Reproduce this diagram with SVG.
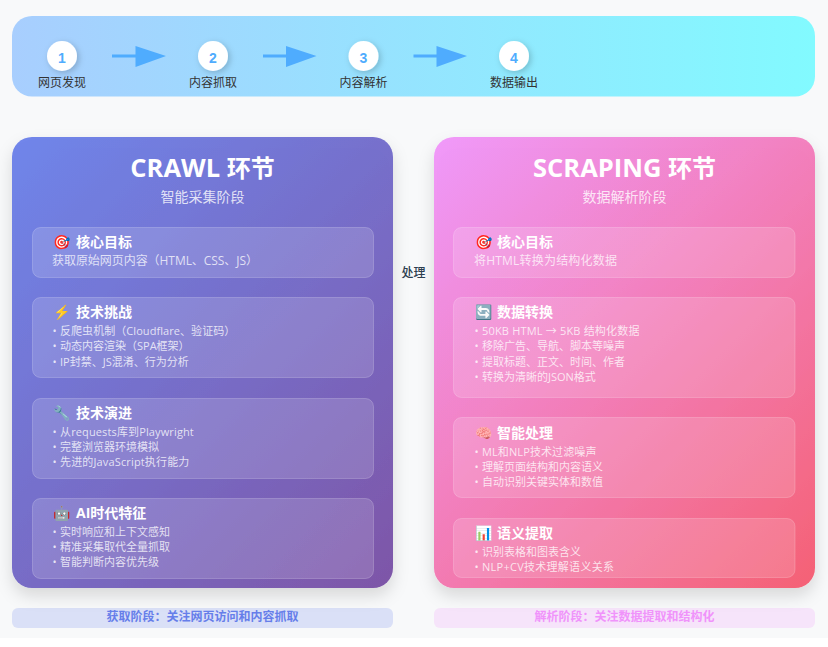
<svg xmlns="http://www.w3.org/2000/svg" width="828" height="647" viewBox="0 0 828 647">
<style>
text{font-family:"Open Sans","Noto Sans CJK SC",sans-serif}
.sl{font-size:12px;fill:#333;text-anchor:middle}
.n{font-size:14px;font-weight:700;fill:#4facfe;text-anchor:middle;font-family:"Liberation Sans","Noto Sans CJK SC",sans-serif}
.h{font-size:24px;font-weight:700;fill:#fff;text-anchor:middle}
.la{font-size:25.500px}
.sub{font-size:14px;fill:#fff;fill-opacity:.8;text-anchor:middle}
.st{font-size:14px;font-weight:700;fill:#fff}
.lead{font-size:12px;fill:#fff;fill-opacity:.75}
.it{font-size:11px;fill:#fff;fill-opacity:.78}
.em{font-size:14px;font-family:"Noto Color Emoji","Noto Sans CJK SC",sans-serif}
.sec{fill:#fff;fill-opacity:.15;stroke:#fff;stroke-opacity:.2}
.ft{font-size:12px;font-weight:700;text-anchor:middle}
.ar{fill:#4facfe}
</style>
<defs>
<linearGradient id="gt" gradientUnits="userSpaceOnUse" x1="12" y1="56" x2="815" y2="56"><stop offset="0" stop-color="#a8cefe"/><stop offset="1" stop-color="#82faff"/></linearGradient>
<linearGradient id="gl" gradientUnits="userSpaceOnUse" x1="-5.5" y1="154.5" x2="410.5" y2="570.5"><stop offset="0" stop-color="#667eea"/><stop offset="1" stop-color="#764ba2"/></linearGradient>
<linearGradient id="gr" gradientUnits="userSpaceOnUse" x1="416.5" y1="154.5" x2="832.5" y2="570.5"><stop offset="0" stop-color="#f093fb"/><stop offset="1" stop-color="#f5576c"/></linearGradient>
<filter id="sp" x="-10%" y="-10%" width="120%" height="120%"><feDropShadow dx="0" dy="8" stdDeviation="8" flood-color="#000" flood-opacity=".14"/></filter>
<filter id="sc" x="-50%" y="-50%" width="200%" height="200%"><feDropShadow dx="2" dy="2" stdDeviation="3" flood-color="#000" flood-opacity=".2"/></filter>
</defs>
<rect width="828" height="638" fill="#f8f9fa"/>
<g id="banner">
<rect x="12" y="16" width="803" height="80.500" rx="20" fill="url(#gt)"/>
</g>
<g id="connectors">
<path class="ar" d="M112 54.500H135.500V46L166 56 135.500 67V57.500H112Z"/>
<path class="ar" d="M263 54.500H286V46L316.500 56 286 67V57.500H263Z"/>
<path class="ar" d="M413.500 54.500H436.500V46L467 56 436.500 67V57.500H413.500Z"/>
</g>
<g id="step1"><circle cx="62" cy="56" r="15" fill="#fff" filter="url(#sc)"/><text class="n" x="62" y="63">1</text><text class="sl" x="62" y="87">网页发现</text></g>
<g id="step2"><circle cx="213" cy="56" r="15" fill="#fff" filter="url(#sc)"/><text class="n" x="213" y="63">2</text><text class="sl" x="213" y="87">内容抓取</text></g>
<g id="step3"><circle cx="363.500" cy="56" r="15" fill="#fff" filter="url(#sc)"/><text class="n" x="363.500" y="63">3</text><text class="sl" x="363.500" y="87">内容解析</text></g>
<g id="step4"><circle cx="514" cy="56" r="15" fill="#fff" filter="url(#sc)"/><text class="n" x="514" y="63">4</text><text class="sl" x="514" y="87">数据输出</text></g>

<g id="crawl">
<rect x="12" y="137" width="381" height="451" rx="20" fill="url(#gl)" fill-opacity=".93" filter="url(#sp)"/>
<text class="h" x="202.500" y="177"><tspan class="la">CRAWL </tspan>环节</text>
<text class="sub" x="202.500" y="202">智能采集阶段</text>
<rect class="sec" x="32.500" y="227.500" width="341" height="50" rx="8"/>
<text class="em" x="53" y="247">🎯</text><text class="st" x="76" y="247">核心目标</text>
<text class="lead" x="52" y="265" textLength="206" lengthAdjust="spacing">获取原始网页内容（HTML、CSS、JS）</text>
<rect class="sec" x="32.500" y="297.500" width="341" height="80" rx="8"/>
<text class="em" x="53" y="317">⚡</text><text class="st" x="76" y="317">技术挑战</text>
<text class="it" x="52.500" y="335">•<tspan x="60" letter-spacing=".06">反爬虫机制（Cloudflare、验证码）</tspan></text>
<text class="it" x="52.500" y="350">•<tspan x="60">动态内容渲染（SPA框架）</tspan></text>
<text class="it" x="52.500" y="366">•<tspan x="60">IP封禁、JS混淆、行为分析</tspan></text>
<rect class="sec" x="32.500" y="398.500" width="341" height="80" rx="8"/>
<text class="em" x="53" y="418">🔧</text><text class="st" x="76" y="418">技术演进</text>
<text class="it" x="52.500" y="436">•<tspan x="60" letter-spacing=".13">从requests库到Playwright</tspan></text>
<text class="it" x="52.500" y="451">•<tspan x="60">完整浏览器环境模拟</tspan></text>
<text class="it" x="52.500" y="466">•<tspan x="60" letter-spacing=".15">先进的JavaScript执行能力</tspan></text>
<rect class="sec" x="32.500" y="498.500" width="341" height="80" rx="8"/>
<text class="em" x="53" y="518">🤖</text><text class="st" x="76" y="518">AI时代特征</text>
<text class="it" x="52.500" y="536">•<tspan x="60">实时响应和上下文感知</tspan></text>
<text class="it" x="52.500" y="551">•<tspan x="60">精准采集取代全量抓取</tspan></text>
<text class="it" x="52.500" y="566">•<tspan x="60">智能判断内容优先级</tspan></text>
</g>

<g id="process"><text x="413.500" y="277" font-size="12" font-weight="500" fill="#2c3e50" text-anchor="middle">处理</text></g>

<g id="scraping">
<rect x="434" y="137" width="381" height="451" rx="20" fill="url(#gr)" fill-opacity=".93" filter="url(#sp)"/>
<text class="h" x="624.500" y="177"><tspan class="la">SCRAPING </tspan>环节</text>
<text class="sub" x="624.500" y="202">数据解析阶段</text>
<rect class="sec" x="453.500" y="227.500" width="341.500" height="50" rx="8"/>
<text class="em" x="475" y="247">🎯</text><text class="st" x="497" y="247">核心目标</text>
<text class="lead" x="474" y="265" textLength="143" lengthAdjust="spacing">将HTML转换为结构化数据</text>
<rect class="sec" x="453.500" y="297.500" width="341.500" height="100" rx="8"/>
<text class="em" x="475" y="317">🔄</text><text class="st" x="497" y="317">数据转换</text>
<text class="it" x="474.500" y="335">•<tspan x="482" letter-spacing=".18">50KB HTML → 5KB 结构化数据</tspan></text>
<text class="it" x="474.500" y="350">•<tspan x="482">移除广告、导航、脚本等噪声</tspan></text>
<text class="it" x="474.500" y="366">•<tspan x="482">提取标题、正文、时间、作者</tspan></text>
<text class="it" x="474.500" y="381">•<tspan x="482">转换为清晰的JSON格式</tspan></text>
<rect class="sec" x="453.500" y="417.500" width="341.500" height="80" rx="8"/>
<text class="em" x="475" y="438">🧠</text><text class="st" x="497" y="438">智能处理</text>
<text class="it" x="474.500" y="456">•<tspan x="482" letter-spacing=".1">ML和NLP技术过滤噪声</tspan></text>
<text class="it" x="474.500" y="471">•<tspan x="482">理解页面结构和内容语义</tspan></text>
<text class="it" x="474.500" y="486">•<tspan x="482">自动识别关键实体和数值</tspan></text>
<rect class="sec" x="453.500" y="518.500" width="341.500" height="59" rx="8"/>
<text class="em" x="475" y="538">📊</text><text class="st" x="497" y="538">语义提取</text>
<text class="it" x="474.500" y="556">•<tspan x="482">识别表格和图表含义</tspan></text>
<text class="it" x="474.500" y="571">•<tspan x="482" letter-spacing=".27">NLP+CV技术理解语义关系</tspan></text>
</g>

<g id="note-crawl"><rect x="12" y="608" width="381" height="20" rx="6" fill="#667eea" fill-opacity=".2"/><text class="ft" x="202.500" y="621" fill="#667eea">获取阶段：关注网页访问和内容抓取</text></g>
<g id="note-scraping"><rect x="434" y="608" width="381" height="20" rx="6" fill="#f093fb" fill-opacity=".2"/><text class="ft" x="624.500" y="621" fill="#f093fb">解析阶段：关注数据提取和结构化</text></g>
</svg>
